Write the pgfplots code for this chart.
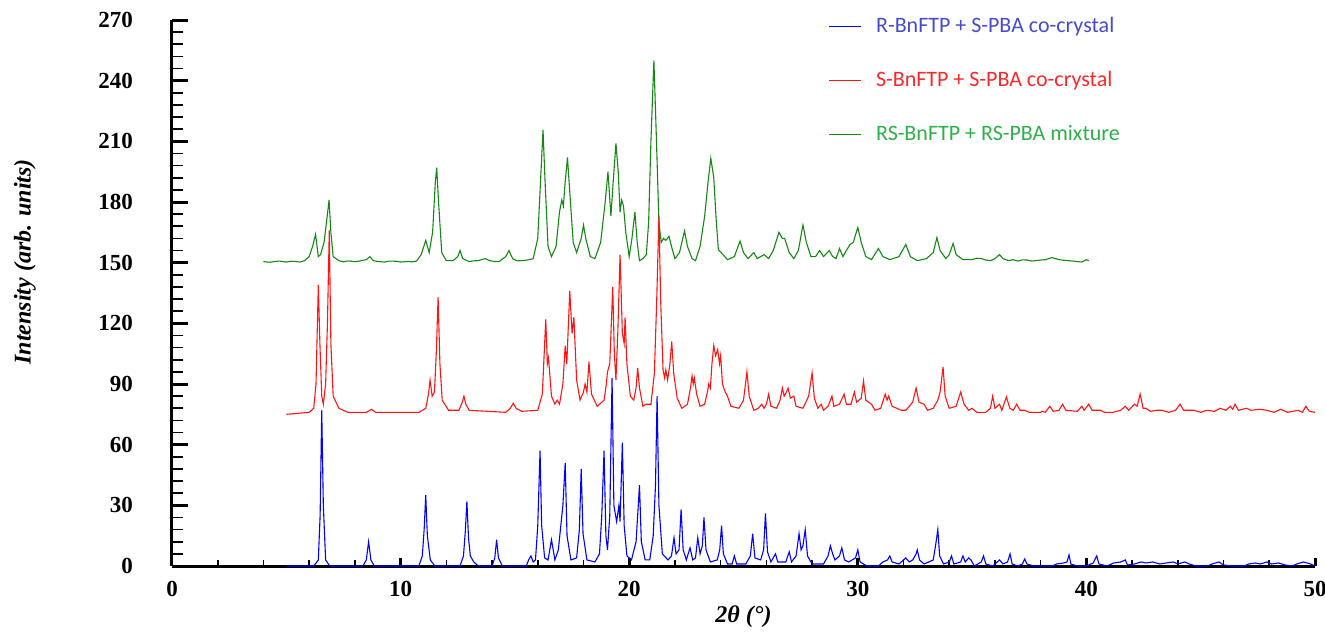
\documentclass[border=0pt]{standalone}
\usepackage{pgfplots}
\pgfplotsset{compat=1.18}
\usepackage{fontspec}
\setmainfont{Liberation Serif}
\newfontfamily\carlito{Carlito}
\definecolor{trblue}{RGB}{0,0,255}
\definecolor{trred}{RGB}{255,20,20}
\definecolor{trgreen}{RGB}{20,135,20}
\definecolor{txblue}{RGB}{70,75,205}
\definecolor{txred}{RGB}{250,40,40}
\definecolor{txgreen}{RGB}{45,175,75}
\newcommand\legfont{\carlito\fontsize{11}{13}\selectfont}
\begin{document}
\begin{tikzpicture}
\useasboundingbox (0,0) rectangle (662.5pt,317pt);
\begin{axis}[
  at={(86pt,34pt)}, anchor=south west,
  scale only axis, width=571.5pt, height=273pt,
  xmin=0, xmax=50, ymin=0, ymax=270,
  axis lines=left,
  axis line style={-, line width=1.5pt, black},
  every outer x axis line/.append style={-},
  every outer y axis line/.append style={-},
  xtick={0,10,20,30,40,50},
  ytick={0,30,60,90,120,150,180,210,240,270},
  minor x tick num=4, minor y tick num=4,
  tick align=inside,
  major tick length=8pt, minor tick length=5.5pt,
  every major x tick/.append style={/pgfplots/major tick length=4pt},
  every minor x tick/.append style={/pgfplots/minor tick length=3pt},
  major tick style={line width=1.5pt, black},
  minor tick style={line width=0.8pt, black},
  /pgf/number format/assume math mode=true,
  ticklabel style={font=\bfseries\fontsize{11.5}{12}\selectfont},
  xticklabel style={yshift=-4pt},
  yticklabel style={xshift=-16pt},
  xlabel={\bfseries\itshape 2θ (°)},
  ylabel={\bfseries\itshape Intensity (arb. units)},
  every axis x label/.style={at={(rel axis cs:0.5,-0.0934)}, anchor=center, font=\fontsize{12}{14}\selectfont},
  every axis y label/.style={at={(rel axis cs:-0.1286,0.557)}, rotate=90, anchor=center, font=\fontsize{12}{14}\selectfont},
  clip=false,
  reverse legend,
  legend cell align=left,
  legend style={draw=none, fill=none, inner sep=0pt, at={(rel axis cs:0.574,1.008)}, anchor=north west,
    row sep=16.5pt, font=\legfont, nodes={inner sep=0pt, text height=8pt, text depth=2.5pt}},
  legend image code/.code={\draw[#1, line width=0.6pt] (0pt,0pt) -- (16pt,0pt); \path[draw=none, fill=none] (16pt,0pt) -- (23.5pt,0pt);},
]
% green: RS-BnFTP + RS-PBA mixture
\addplot[trgreen, line width=0.55pt] coordinates {
(4.0,150.5) (4.3,150.2) (4.5,150.6) (4.7,150.8) (5.0,150.3) (5.2,150.7) (5.4,150.6) (5.6,150.3) (5.8,151) (6.0,153) (6.15,158) (6.28,164) (6.4,153) (6.5,154) (6.65,160) (6.78,172) (6.87,181) (6.95,165) (7.05,153) (7.3,151) (7.5,150.4) (7.7,150.9) (8.0,150.5) (8.2,150.8) (8.5,151.5) (8.66,153) (8.8,151) (9.0,150.6) (9.3,150.3) (9.5,150.8) (9.8,150.7) (10.0,150.3) (10.3,150.6) (10.5,150.4) (10.7,150.8) (10.9,154) (11.1,161) (11.25,155) (11.4,165) (11.52,190) (11.58,197) (11.66,180) (11.8,155) (12.0,151) (12.3,151) (12.5,153) (12.6,156) (12.72,152) (13.0,150.5) (13.2,150.9) (13.4,151) (13.7,152) (13.9,151) (14.1,150.6) (14.3,150.5) (14.6,153) (14.74,156) (14.9,152) (15.1,150.9) (15.3,151) (15.6,151.4) (15.8,152) (16.0,162) (16.12,190) (16.23,215.6) (16.32,190) (16.45,158) (16.6,153) (16.8,158) (16.95,175) (17.05,181) (17.12,178) (17.2,190) (17.3,202) (17.4,185) (17.55,160) (17.7,155) (17.9,162) (18.0,168.6) (18.1,162) (18.3,153) (18.5,152) (18.75,160) (18.95,180) (19.07,195) (19.2,173) (19.3,190) (19.42,209) (19.52,195) (19.6,175) (19.67,181) (19.75,178) (19.85,165) (20.0,153) (20.12,162) (20.25,175) (20.35,160) (20.45,151) (20.6,152) (20.75,154) (20.85,170) (20.95,210) (21.08,250) (21.18,215) (21.3,170) (21.4,160) (21.5,162) (21.6,161) (21.74,163) (21.85,158) (22.0,152) (22.2,155) (22.42,165.7) (22.55,158) (22.75,152) (22.9,151) (23.1,158) (23.3,173) (23.45,190) (23.57,201.6) (23.7,192) (23.8,172) (23.9,156.5) (24.1,154) (24.3,151.5) (24.6,153) (24.85,160.7) (25.0,155) (25.2,152) (25.45,155) (25.6,152) (25.9,154) (26.1,152) (26.3,156) (26.55,165) (26.7,162) (26.8,162) (27.0,155) (27.2,152) (27.4,156) (27.6,168.6) (27.75,160) (27.95,153) (28.15,153) (28.33,156) (28.5,153) (28.75,156) (28.9,153) (29.05,152) (29.2,157) (29.35,153) (29.5,156) (29.66,159) (29.8,160) (30.0,167.4) (30.15,160) (30.35,153) (30.6,151.5) (30.9,157) (31.1,153) (31.4,151.5) (31.8,153) (32.1,159) (32.3,153) (32.6,151) (33.0,152) (33.3,155) (33.46,162.4) (33.6,156) (33.85,152) (34.0,154) (34.17,159.5) (34.3,154) (34.6,151.5) (35.0,151.5) (35.2,152.2) (35.4,152) (35.6,151.3) (35.8,151) (36.0,152) (36.2,154) (36.35,152) (36.6,151) (36.8,151.5) (37.0,150.8) (37.2,151.4) (37.4,151.3) (37.6,150.8) (37.8,151) (38.0,151.3) (38.2,151.5) (38.5,152.5) (38.8,151.5) (39.0,151.2) (39.2,151) (39.5,150.7) (39.8,150.3) (40.0,151.5) (40.1,151)
};
\addlegendentry{\legfont\textcolor{txgreen}{RS-BnFTP + RS-PBA mixture}}
% red: S-BnFTP + S-PBA co-crystal
\addplot[trred, line width=0.55pt] coordinates {
(5.0,75) (5.5,75.5) (6.0,76) (6.2,78) (6.3,90) (6.4,139) (6.47,110) (6.55,84) (6.62,80) (6.72,90) (6.8,120) (6.88,166) (6.95,110) (7.05,84) (7.3,78) (7.7,76) (8.5,76) (8.73,77.5) (8.9,76) (10.8,76) (11.1,78) (11.22,85) (11.29,92) (11.38,84) (11.48,86) (11.56,105) (11.64,133) (11.72,100) (11.82,82) (12.1,77) (12.55,77) (12.7,81) (12.77,84) (12.85,80) (13.0,77) (14.6,76) (14.8,78) (14.93,80.5) (15.05,78) (15.3,76.5) (16.0,77) (16.2,85) (16.35,122) (16.42,100) (16.47,103) (16.6,84) (16.75,80) (16.85,82) (16.95,80) (17.1,90) (17.2,109) (17.27,100) (17.4,136) (17.5,115) (17.58,123) (17.7,92) (17.85,82) (18.0,86) (18.07,90) (18.15,86) (18.24,101) (18.35,85) (18.6,79) (18.9,82) (19.0,90) (19.05,96) (19.15,100) (19.28,138) (19.35,105) (19.42,92) (19.5,115) (19.6,154) (19.7,115) (19.78,110) (19.82,123) (19.9,100) (20.05,84) (20.2,82) (20.3,88) (20.37,98) (20.45,88) (20.6,79) (20.73,80) (20.95,80) (21.1,95) (21.2,130) (21.3,173) (21.38,130) (21.48,97) (21.55,93) (21.6,97) (21.68,92) (21.78,100) (21.86,111) (21.95,95) (22.1,83) (22.3,78) (22.55,80) (22.68,88) (22.75,94) (22.8,90) (22.85,93) (22.95,85) (23.1,79) (23.3,80) (23.42,86) (23.48,90) (23.55,88) (23.62,100) (23.7,109) (23.78,104) (23.87,107) (23.95,100) (24.0,104) (24.08,90) (24.2,86) (24.3,84) (24.45,79) (24.8,78) (25.0,82) (25.15,96) (25.25,84) (25.45,77) (25.65,78) (25.8,80) (25.9,78) (26.0,80) (26.1,85) (26.2,79) (26.45,78) (26.6,82) (26.7,88) (26.78,84) (26.88,86) (26.95,88) (27.05,83) (27.2,84) (27.3,79) (27.6,78) (27.85,84) (28.0,95.5) (28.1,83) (28.25,78) (28.4,80) (28.5,77) (28.7,79) (28.87,84) (28.95,79) (29.2,80) (29.4,85) (29.5,80) (29.7,80) (29.85,86) (29.95,81) (30.15,83) (30.25,91.5) (30.35,82) (30.6,80) (30.75,77) (31.0,78) (31.2,85) (31.28,82) (31.35,84) (31.5,79) (31.7,78) (31.9,77) (32.1,77) (32.4,81) (32.55,88) (32.68,81) (32.9,80) (33.05,77) (33.3,78) (33.5,82) (33.6,86) (33.73,98.5) (33.82,84) (34.0,78) (34.3,79) (34.5,86) (34.65,80) (34.85,77) (35.0,78) (35.2,76) (35.6,76) (35.8,78) (35.9,84) (36.0,78) (36.2,80) (36.3,77) (36.5,83.6) (36.65,78) (36.8,77) (36.95,80) (37.1,77) (37.3,77) (37.5,76) (38.0,76) (38.05,76.5) (38.2,76) (38.4,79) (38.55,76.5) (38.8,77) (38.96,80) (39.1,77) (39.6,76.5) (39.8,79) (39.9,77) (40.1,80) (40.25,77) (40.6,77) (40.8,76) (41.17,76) (41.5,77) (41.7,79) (41.85,77) (42.1,80) (42.22,79) (42.35,85) (42.48,78) (42.6,78) (42.8,76.5) (43.07,77) (43.3,77) (43.6,76) (43.9,77) (44.1,80) (44.25,77) (44.7,77) (45.0,76) (45.26,77) (45.6,76.5) (45.85,78) (46.1,77) (46.3,79) (46.4,77.5) (46.5,80) (46.65,77) (47.0,78) (47.2,77) (47.6,77.5) (47.9,77) (48.2,76) (48.5,77.5) (48.8,76) (49.26,77) (49.45,76) (49.6,79) (49.75,76.5) (50,76)
};
\addlegendentry{\legfont\textcolor{txred}{S-BnFTP + S-PBA co-crystal}}
% blue: R-BnFTP + S-PBA co-crystal
\addplot[trblue, line width=0.55pt] coordinates {
(5,0) (6.2,0) (6.4,3) (6.48,25) (6.55,77) (6.62,30) (6.72,3) (6.9,0) (8.35,0) (8.5,3) (8.6,12) (8.7,3) (8.85,0) (10.8,0) (10.95,5) (11.03,18) (11.1,35) (11.17,15) (11.3,3) (11.5,0) (12.6,0) (12.75,5) (12.83,17) (12.9,32) (12.97,14) (13.05,5) (13.2,2) (13.4,0) (14.0,0) (14.12,4) (14.2,13) (14.28,4) (14.45,0) (15.5,0) (15.6,3) (15.7,5) (15.8,2) (15.9,3) (16.0,20) (16.1,57) (16.17,20) (16.3,4) (16.45,3) (16.6,13) (16.75,3) (16.9,8) (17.0,19) (17.1,30) (17.2,51) (17.28,15) (17.45,3) (17.7,4) (17.82,18) (17.9,48) (17.98,16) (18.15,3) (18.5,2) (18.7,6) (18.8,25) (18.9,57) (18.98,15) (19.05,8) (19.15,25) (19.25,93) (19.33,30) (19.45,22) (19.55,30) (19.6,22) (19.7,61) (19.78,20) (19.9,5) (20.1,3) (20.3,12) (20.45,40) (20.53,12) (20.7,3) (20.9,3) (21.05,15) (21.15,40) (21.22,84) (21.3,30) (21.45,6) (21.7,3) (21.85,5) (21.96,14) (22.05,6) (22.18,8) (22.27,28) (22.36,8) (22.5,3) (22.66,9) (22.78,3) (22.9,4) (23.0,14) (23.1,6) (23.2,10) (23.27,24) (23.36,8) (23.55,2) (23.85,3) (23.96,8) (24.04,20) (24.12,6) (24.3,1) (24.5,1) (24.6,5) (24.7,1) (25.1,1) (25.3,5) (25.4,16) (25.5,4) (25.75,3) (25.88,8) (25.96,26) (26.05,7) (26.2,2) (26.4,6) (26.5,2) (26.85,2) (27.0,7) (27.1,2) (27.3,5) (27.43,16) (27.52,8) (27.6,10) (27.7,18) (27.8,5) (28.0,1) (28.5,1) (28.7,5) (28.8,10) (28.9,6) (29.0,3) (29.2,5) (29.3,9) (29.42,3) (29.6,2) (29.9,4) (30.0,8) (30.1,2) (30.4,0) (30.9,0) (31.1,2) (31.3,3) (31.4,5) (31.5,2) (31.8,1) (32.0,3) (32.1,4) (32.25,2) (32.4,3) (32.55,6) (32.6,8) (32.7,3) (32.9,1) (33.3,3) (33.4,10) (33.5,18) (33.58,5) (33.75,1) (34.0,2) (34.1,5) (34.2,1) (34.5,2) (34.6,5) (34.7,2) (34.85,4) (34.95,3) (35.1,0) (35.4,2) (35.5,5) (35.6,1) (35.9,0) (36.1,2) (36.2,3) (36.35,1) (36.55,2) (36.66,6) (36.75,1) (37.0,0) (37.2,1) (37.3,3.5) (37.4,1) (37.7,0) (38.5,0) (38.7,1) (39.0,1.5) (39.15,2) (39.24,5.5) (39.32,1) (39.6,0) (40.0,0) (40.3,1.5) (40.45,5) (40.55,1) (40.9,0) (41.2,1.5) (41.5,2) (41.7,3) (41.8,0.5) (42.1,1) (42.4,2) (42.6,1.5) (42.9,2) (43.2,1) (43.5,1.5) (43.8,2) (44.0,1) (44.3,2) (44.5,1) (44.8,0) (45.3,0) (45.5,1) (45.8,2) (46.0,0.5) (46.4,0) (46.9,0) (47.1,1) (47.4,1.5) (47.6,1) (47.9,2) (48.1,1) (48.4,1.5) (48.7,0.5) (49.0,0) (49.2,1) (49.5,2) (49.8,1) (50,0)
};
\addlegendentry{\legfont\textcolor{txblue}{R-BnFTP + S-PBA co-crystal}}
\end{axis}
\end{tikzpicture}
\end{document}
